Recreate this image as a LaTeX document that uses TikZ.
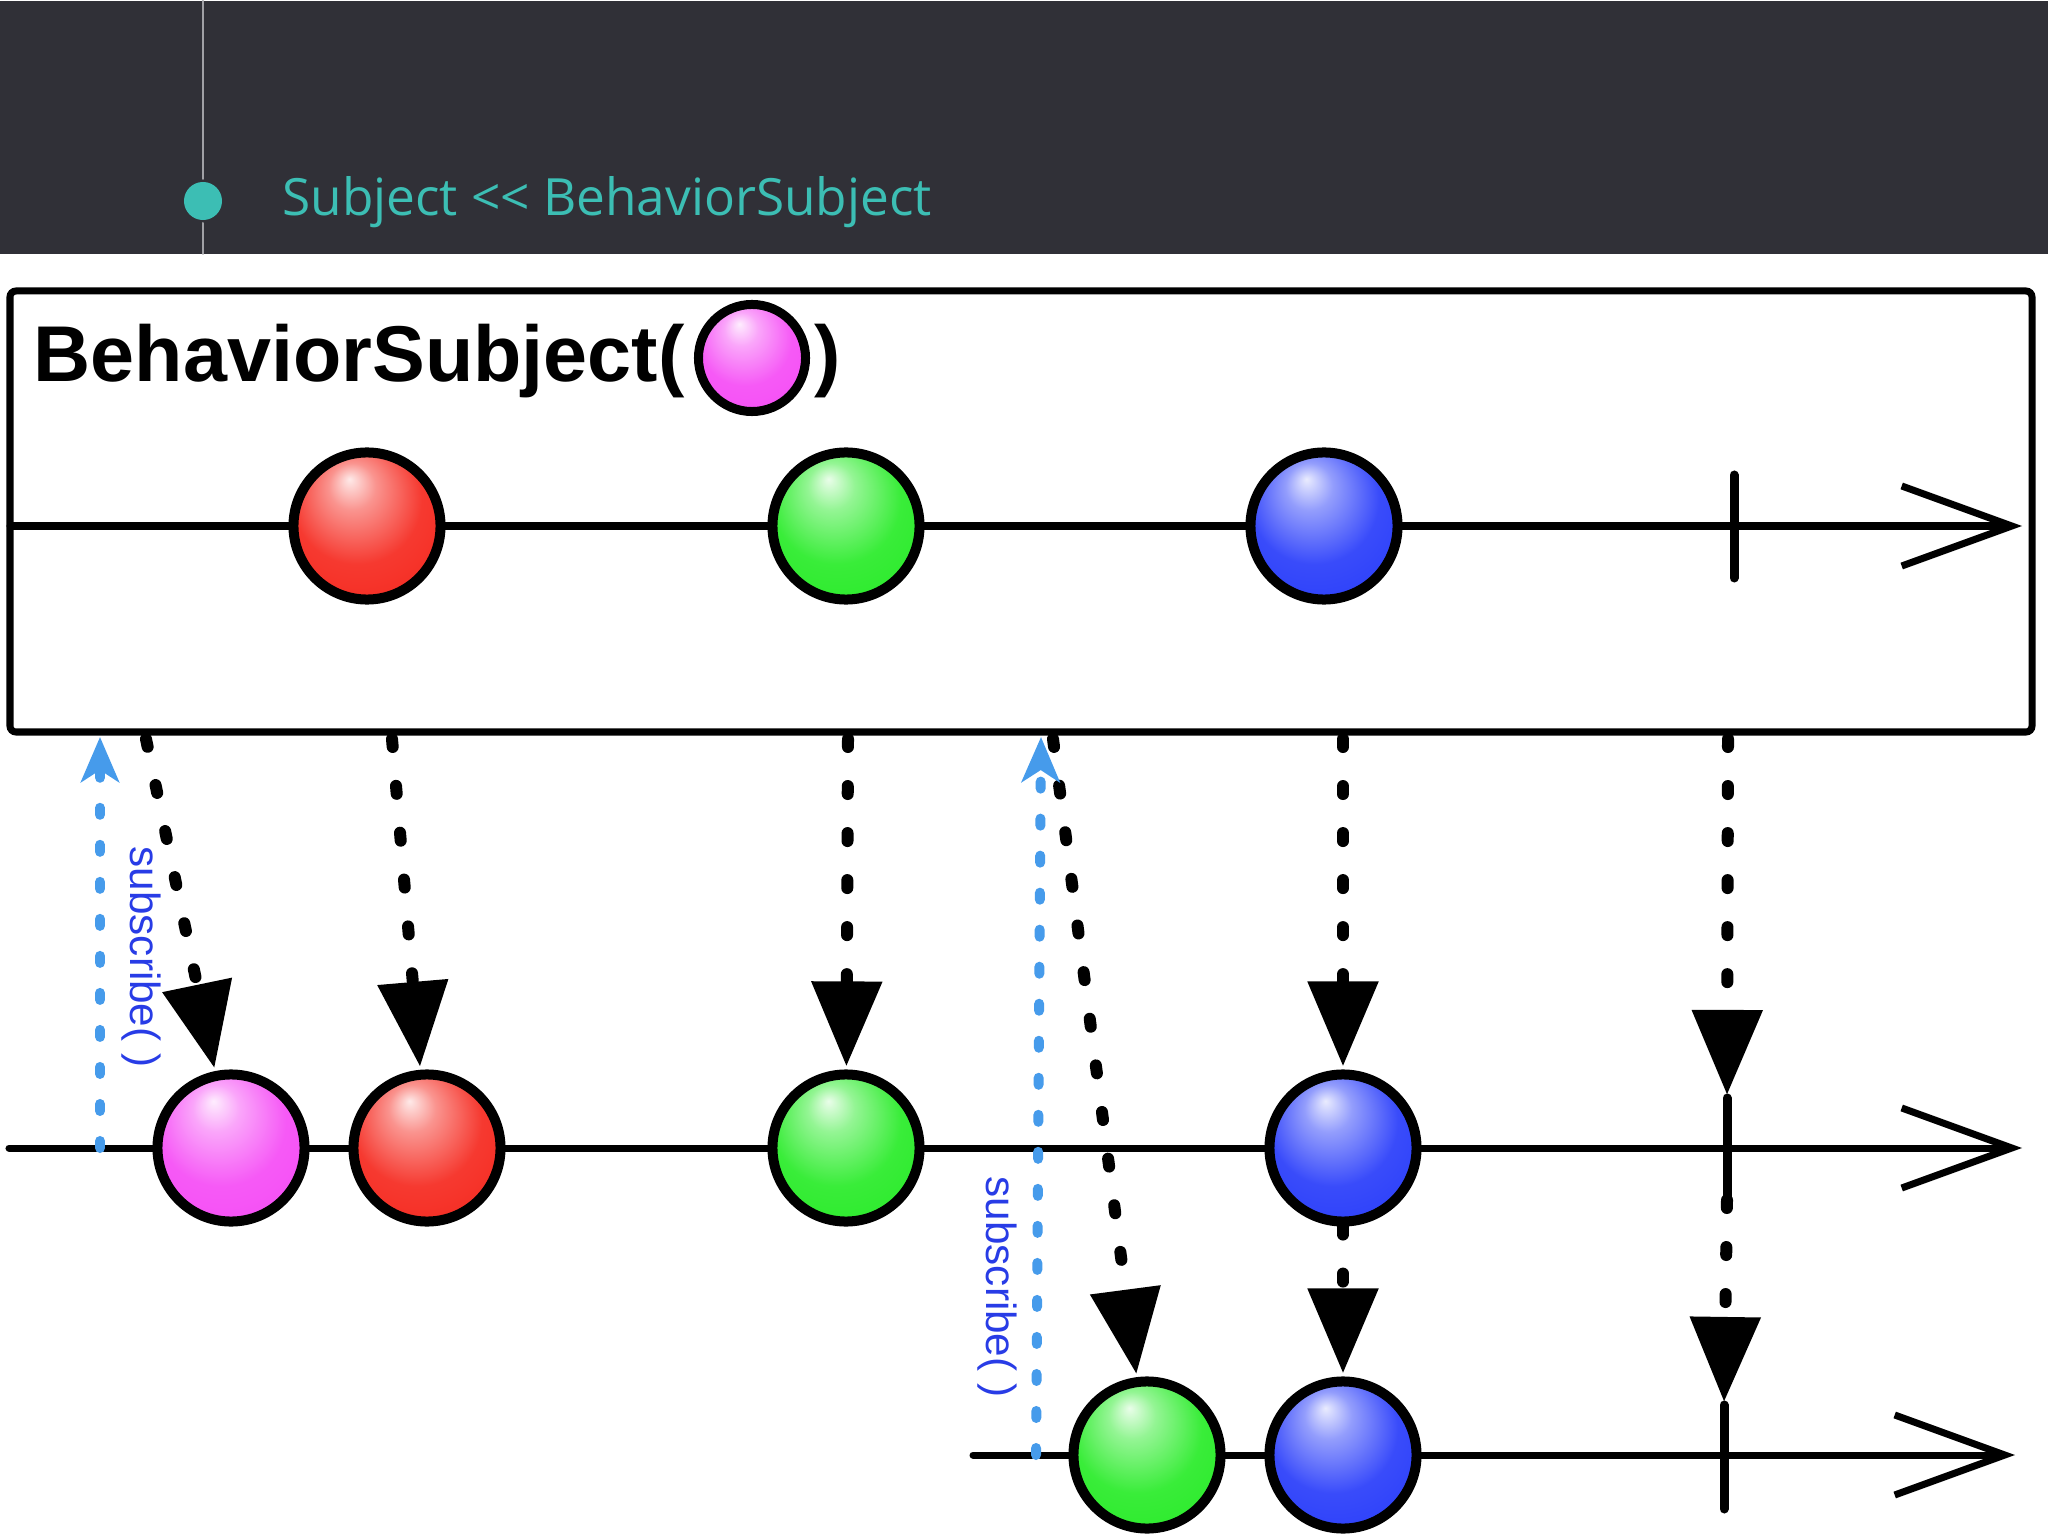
\documentclass[tikz,border=0pt]{standalone}
\usepackage{fontspec}
\setmainfont{Liberation Sans}
\newfontfamily\headfont{Open Sans}
\usetikzlibrary{arrows.meta}
\definecolor{headbg}{RGB}{48,48,55}
\definecolor{headline}{RGB}{160,160,165}
\definecolor{headteal}{RGB}{60,190,180}
\definecolor{bred}{RGB}{245,40,30}
\definecolor{bgreen}{RGB}{40,235,40}
\definecolor{bblue}{RGB}{40,60,250}
\definecolor{bpink}{RGB}{245,75,245}
\definecolor{subline}{RGB}{70,155,235}
\definecolor{subtext}{RGB}{40,60,230}
\colorlet{ballc}{bred}
\pgfdeclareradialshading[ballc]{glossy}{\pgfpoint{-6bp}{16bp}}{%
	color(0bp)=(ballc!10!white); color(8bp)=(ballc!50!white);
	color(22bp)=(ballc!92!white); color(38bp)=(ballc); color(50bp)=(ballc!78!black)}
\begin{document}
\begin{tikzpicture}[x=0.01cm,y=-0.01cm,line cap=round,>=Stealth]
	\tikzset{
		ball/.style={circle,draw=black,line width=0.1cm,minimum size=1.47cm,inner sep=0pt,
			/utils/exec={\colorlet{ballc}{#1}},shading=glossy},
		timeline/.style={line width=0.07cm,-{Straight Barb[length=1.1cm,width=0.8cm]}},
		endtick/.style={line width=0.09cm},
		emit/.style={line width=0.12cm,dash pattern=on 0.08cm off 0.39cm,shorten >=0.03cm,-{Triangle[length=0.85cm,width=0.68cm]}},
		sub/.style={draw=subline,line width=0.1cm,dash pattern=on 0.07cm off 0.3cm,-{Stealth[length=0.45cm,width=0.38cm,inset=0.12cm]}},
		sublabel/.style={text=subtext,rotate=-90,font=\fontsize{12}{14}\selectfont}
	}
	\fill[white] (0,0) rectangle (2048,1536);
	% header
	\fill[headbg] (0,0) rectangle (2048,253);
	\draw[headline,line width=0.02cm] (203,0) -- (203,178) (203,222) -- (203,253);
	\fill[headteal] (203,200) circle (0.19cm);
	\node[anchor=base west,text=headteal,font=\headfont\fontsize{14.6}{18}\selectfont] (head) at (270,215) {Subject <{}< BehaviorSubject};
	% subject box
	\draw[line width=0.07cm,rounded corners=0.06cm] (10,290) rectangle (2032,731);
	\node[anchor=base west,font=\bfseries\fontsize{22.5}{26}\selectfont,inner sep=0pt] (title) at (33,381) {BehaviorSubject(};
	\node[ball=bpink,line width=0.09cm,minimum size=1.07cm] (init) at (752,357) {};
	\node[anchor=base west,font=\bfseries\fontsize{22.5}{26}\selectfont,inner sep=0pt] (close) at (814,381) {)};
	% timelines
	\draw[timeline] (10,525) -- (2022,525);
	\draw[timeline] (9,1147) -- (2022,1147);
	\draw[timeline] (973,1454) -- (2015,1454);
	\draw[endtick] (1734,474) -- (1734,577);
	\draw[endtick] (1727,1097) coordinate (k2a) -- (1727,1199) coordinate (k2b);
	\draw[endtick] (1724,1404) coordinate (k3) -- (1724,1508);
	% items
	\node[ball=bred] (r0) at (367,525) {};
	\node[ball=bgreen] (g0) at (846,525) {};
	\node[ball=bblue] (b0) at (1324,525) {};
	\node[ball=bpink] (p1) at (231,1147) {};
	\node[ball=bred] (r1) at (427,1147) {};
	\node[ball=bgreen] (g1) at (846,1147) {};
	\node[ball=bblue] (b1) at (1343,1147) {};
	\node[ball=bgreen] (g2) at (1147,1454) {};
	\node[ball=bblue] (b2) at (1343,1454) {};
	% emissions
	\foreach \n/\x in {o1/146,o2/392,o3/848,o4/1053,o5/1343,o6/1728}
		\coordinate (\n) at (\x,738);
	\draw[emit] (o1) -- (p1);
	\draw[emit] (o2) -- (r1);
	\draw[emit] (o3) -- (g1);
	\draw[emit] (o4) -- (g2);
	\draw[emit] (o5) -- (b1);
	\draw[emit] (b1) -- (b2);
	\draw[emit] (o6) -- (k2a);
	\draw[emit] (k2b) -- (k3);
	% subscriptions
	\coordinate (u1) at (100,1147);
	\coordinate (v1) at (100,736);
	\coordinate (u2) at (1036,1454);
	\coordinate (v2) at (1041,736);
	\draw[sub] (u1) -- (v1);
	\draw[sub] (u2) -- (v2);
	\node[sublabel] (lab1) at (141,956) {subscribe( )};
	\node[sublabel] (lab2) at (997,1286) {subscribe( )};
\end{tikzpicture}
\end{document}
